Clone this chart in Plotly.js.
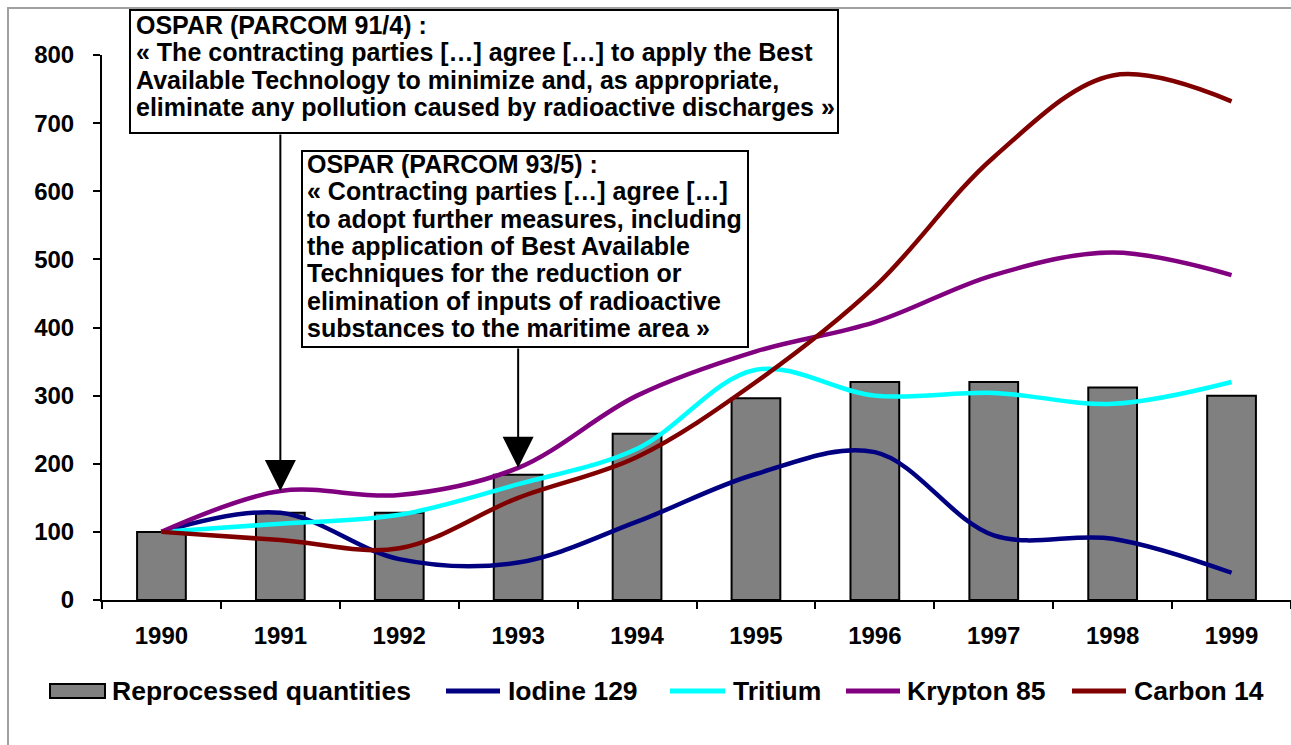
<!DOCTYPE html>
<html>
<head>
<meta charset="utf-8">
<script src="https://cdn.plot.ly/plotly-3.0.1.min.js"></script>
<style>
html,body{margin:0;padding:0;background:#fff;}
#chart{width:1291px;height:745px;}
</style>
</head>
<body>
<div id="chart"></div>
<script>
// ---------- data ----------
const years = ['1990','1991','1992','1993','1994','1995','1996','1997','1998','1999'];
const reprocessed = [100, 128, 128, 184, 244, 296, 320, 320, 312, 300];
const iodine129   = [100, 128, 60, 55, 115, 185, 217, 95, 90, 40];
const tritium     = [100, 112, 125, 170, 222, 338, 300, 304, 288, 320];
const krypton85   = [100, 160, 154, 194, 300, 365, 408, 477, 510, 477];
const carbon14    = [100, 88, 76, 150, 210, 320, 460, 650, 770, 732];
const seriesNames = ['Reprocessed quantities', 'Iodine 129', 'Tritium', 'Krypton 85', 'Carbon 14'];
const yTicks = [0, 100, 200, 300, 400, 500, 600, 700, 800];
const note1Lines = [
  'OSPAR (PARCOM 91/4) :',
  '\u00ab The contracting parties [\u2026] agree [\u2026] to apply the Best',
  'Available Technology to minimize and, as appropriate,',
  'eliminate any pollution caused by radioactive discharges \u00bb'
];
const note2Lines = [
  'OSPAR (PARCOM 93/5) :',
  '\u00ab Contracting parties [\u2026] agree [\u2026]',
  'to adopt further measures, including',
  'the application of Best Available',
  'Techniques for the reduction or',
  'elimination of inputs of radioactive',
  'substances to the maritime area \u00bb'
];

// ---------- geometry helpers (pixels -> paper) ----------
const W = 1291, Hh = 745;
const M = {l: 102, r: 0, t: 55, b: 145};
const PW = W - M.l - M.r, PH = Hh - M.t - M.b;
const px = x => (x - M.l) / PW;
const py = y => (Hh - M.b - y) / PH;
const Y_MAX = 800;

const FONT = 'Liberation Sans, Arial, sans-serif';
const colors = ['#808080', '#000080', '#00FFFF', '#800080', '#800000'];

const lineSeries = [iodine129, tritium, krypton85, carbon14];

const traces = [{
  type: 'bar', x: years, y: reprocessed, name: seriesNames[0],
  width: 0.41,
  marker: {color: colors[0], line: {color: '#000', width: 2}},
  showlegend: false, hoverinfo: 'x+y'
}];
lineSeries.forEach((s, i) => {
  traces.push({
    type: 'scatter', mode: 'lines', x: years, y: s, name: seriesNames[i + 1],
    line: {color: colors[i + 1], width: 4.5, shape: 'spline', smoothing: 1},
    showlegend: false
  });
});

const shapes = [];
const annotations = [];

// outer frame
shapes.push({type: 'rect', xref: 'paper', yref: 'paper', layer: 'below',
  x0: px(8), x1: px(1340), y0: py(8), y1: py(800),
  line: {color: '#a0a0a0', width: 2}, fillcolor: 'rgba(0,0,0,0)'});

// note boxes
function noteBox(x0, y0, x1, y1, lines, textX, firstY, step) {
  shapes.push({type: 'rect', xref: 'paper', yref: 'paper', layer: 'above',
    x0: px(x0), x1: px(x1), y0: py(y0), y1: py(y1),
    line: {color: '#000', width: 2}, fillcolor: '#fff'});
  lines.forEach((t, i) => {
    annotations.push({xref: 'paper', yref: 'paper', x: px(textX), y: py(firstY + i * step),
      xanchor: 'left', yanchor: 'middle', showarrow: false, text: t,
      font: {family: FONT, size: 25, weight: 'bold', color: '#000'}});
  });
}
noteBox(130, 10, 838, 133, note1Lines, 134, 25, 27.3);
noteBox(302, 151, 748, 347, note2Lines, 305, 164, 27.3);

// arrows pointing at the Krypton 85 curve (tail at the bottom of each note box)
[[1, 133], [3, 347]].forEach(([idx, tailPx]) => {
  const tipPx = Hh - M.b - krypton85[idx] / Y_MAX * PH;
  annotations.push({x: idx, y: krypton85[idx], xref: 'x', yref: 'y',
    text: '', showarrow: true, arrowhead: 2, arrowsize: 3.1, arrowwidth: 2,
    arrowcolor: '#000', ax: 0, ay: tailPx - tipPx, standoff: 0});
});

// custom legend
const legY = 691;
const legendItems = [
  {sym: 'bar', x0: 50, x1: 105, tx: 110},
  {sym: 'line', x0: 446, x1: 500, tx: 506},
  {sym: 'line', x0: 670, x1: 725, tx: 731},
  {sym: 'line', x0: 846, x1: 900, tx: 905},
  {sym: 'line', x0: 1072, x1: 1126, tx: 1132}
];
legendItems.forEach((it, i) => {
  if (it.sym === 'bar') {
    shapes.push({type: 'rect', xref: 'paper', yref: 'paper',
      x0: px(it.x0), x1: px(it.x1), y0: py(legY - 7), y1: py(legY + 7),
      line: {color: '#000', width: 2}, fillcolor: colors[0]});
  } else {
    shapes.push({type: 'line', xref: 'paper', yref: 'paper',
      x0: px(it.x0), x1: px(it.x1), y0: py(legY), y1: py(legY),
      line: {color: colors[i], width: 5}});
  }
  annotations.push({xref: 'paper', yref: 'paper', x: px(it.tx), y: py(legY),
    xanchor: 'left', yanchor: 'middle', showarrow: false, text: seriesNames[i],
    font: {family: FONT, size: 26.5, weight: 'bold', color: '#000'}});
});

const layout = {
  width: W, height: Hh,
  margin: M,
  paper_bgcolor: '#fff', plot_bgcolor: '#fff',
  showlegend: false,
  bargap: 0.59,
  font: {family: FONT, size: 24, color: '#000', weight: 'bold'},
  xaxis: {
    type: 'category', range: [-0.5, 9.5], fixedrange: true,
    showline: true, linecolor: '#000', linewidth: 2,
    ticks: 'outside', tickson: 'boundaries', ticklen: 7, tickwidth: 2, tickcolor: '#000',
    showgrid: false, zeroline: false,
    tickfont: {family: FONT, size: 24, weight: 'bold', color: '#000'},
    ticklabelstandoff: 13
  },
  yaxis: {
    range: [0, Y_MAX], tickvals: yTicks, ticktext: yTicks.map(String),
    showline: true, linecolor: '#000', linewidth: 2,
    ticks: 'outside', ticklen: 7, tickwidth: 2, tickcolor: '#000',
    showgrid: false, zeroline: false,
    tickfont: {family: FONT, size: 24, weight: 'bold', color: '#000'},
    ticklabelstandoff: 14
  },
  shapes: shapes,
  annotations: annotations
};

Plotly.newPlot('chart', traces, layout, {displayModeBar: false, staticPlot: true});
</script>
</body>
</html>
